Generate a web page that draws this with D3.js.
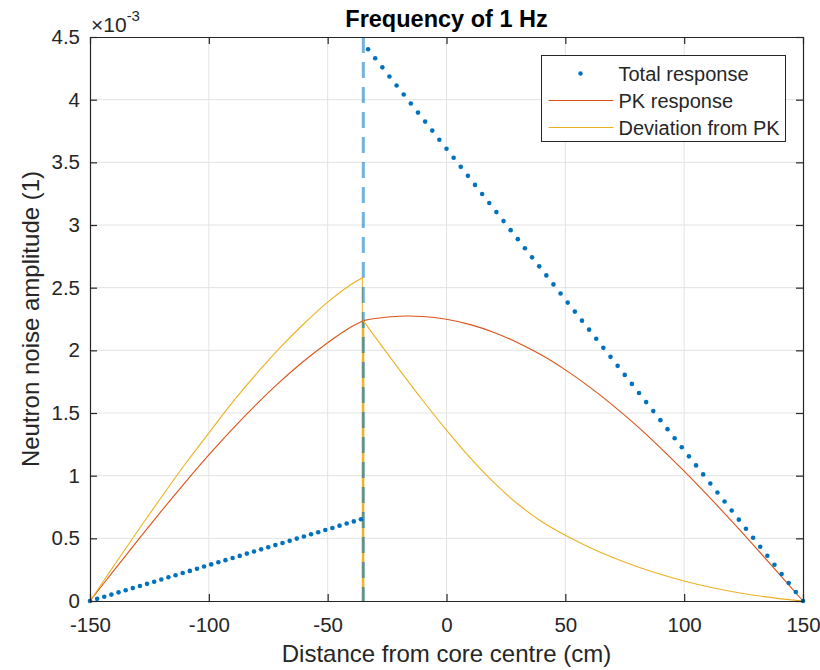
<!DOCTYPE html>
<html>
<head>
<meta charset="utf-8">
<script src="https://cdn.jsdelivr.net/npm/d3@7"></script>
<style>
  body { margin: 0; background: #fff; }
  text { font-family: "Liberation Sans", Arial, sans-serif; fill: #262626; }
</style>
</head>
<body>
<script>
// amplitudes are in units of 1e-3 (shown by the x10^-3 label)

// total response, sampled every 3 cm
var totalLeftX = [-150,-147,-144,-141,-138,-135,-132,-129,-126,-123,-120,-117,-114,-111,-108,-105,-102,-99,-96,-93,
    -90,-87,-84,-81,-78,-75,-72,-69,-66,-63,-60,-57,-54,-51,-48,-45,-42,-39,-36];
var totalLeftY = [0,0.017,0.034,0.051,0.069,0.086,0.103,0.120,0.137,0.154,0.172,0.189,0.206,0.223,0.240,0.257,0.275,0.292,0.309,0.326,
    0.343,0.360,0.378,0.395,0.412,0.429,0.446,0.463,0.480,0.498,0.515,0.532,0.549,0.566,0.583,0.601,0.618,0.635,0.652];
var totalRightX = [-33,-30,-27,-24,-21,-18,-15,-12,-9,-6,-3,0,3,6,9,12,15,18,21,24,27,30,33,36,39,42,45,48,51,54,57,60,
    63,66,69,72,75,78,81,84,87,90,93,96,99,102,105,108,111,114,117,120,123,126,129,132,135,138,141,144,147,150];
var totalRightY = [4.402,4.330,4.258,4.185,4.113,4.041,3.969,3.897,3.825,3.753,3.680,3.608,3.536,3.464,3.392,3.320,3.247,3.175,3.103,3.031,
    2.959,2.887,2.814,2.742,2.670,2.598,2.526,2.454,2.381,2.309,2.237,2.165,2.093,2.020,1.948,1.876,1.804,1.732,1.660,1.587,
    1.515,1.443,1.371,1.299,1.227,1.154,1.082,1.010,0.938,0.866,0.794,0.722,0.649,0.577,0.505,0.433,0.361,0.289,0.216,0.144,
    0.072,0];

// PK response (has a cusp at the perturbation, x = -35)
var pkX = [-150,-140,-130,-120,-110,-100,-90,-80,-70,-60,-50,-40,-35,-30,-20,-10,0,10,20,30,40,50,60,70,80,90,100,110,120,130,140,150];
var pkY = [0,0.242,0.482,0.717,0.945,1.165,1.374,1.569,1.750,1.915,2.061,2.188,2.237,2.254,2.272,2.270,2.248,2.205,2.143,2.061,1.962,1.844,
    1.710,1.561,1.399,1.222,1.036,0.840,0.637,0.428,0.215,0];

// deviation from PK, left and right of the perturbation
var devLeftX = [-150,-140,-130,-120,-110,-100,-90,-80,-70,-60,-50,-40,-35];
var devLeftY = [0,0.280,0.557,0.828,1.091,1.340,1.587,1.812,2.021,2.212,2.385,2.527,2.583];
var devRightX = [-35,-30,-20,-10,0,10,20,30,40,50,60,70,80,90,100,110,120,130,140,150];
var devRightY = [2.237,2.105,1.850,1.600,1.364,1.142,0.944,0.774,0.634,0.524,0.429,0.347,0.276,0.214,0.160,0.114,0.076,0.044,0.019,0];

var perturbX = -35;

var xTicks = [-150,-100,-50,0,50,100,150];
var yTicks = [0,0.5,1,1.5,2,2.5,3,3.5,4,4.5];
var legendLabels = ["Total response","PK response","Deviation from PK"];

drawChart();

function drawChart() {
    var blue = "#0072BD", red = "#D95319", yellow = "#EDB120", axisCol = "#262626";

    var width = 820, height = 670;
    var pLeft = 90, pRight = 803, pTop = 37, pBottom = 601;

    var svg = d3.select("body")
        .append("svg")
        .attr("width", width)
        .attr("height", height);

    var x = d3.scaleLinear().domain([-150, 150]).range([pLeft, pRight]);
    var y = d3.scaleLinear().domain([0, 4.5]).range([pBottom, pTop]);

    //grid
    var grid = svg.append("g").attr("stroke", "#e3e3e3").attr("stroke-width", 1);
    grid.selectAll(".gx").data(xTicks.slice(1, -1)).enter().append("line")
        .attr("x1", function (d) { return x(d); }).attr("x2", function (d) { return x(d); })
        .attr("y1", pTop).attr("y2", pBottom);
    grid.selectAll(".gy").data(yTicks.slice(1, -1)).enter().append("line")
        .attr("y1", function (d) { return y(d); }).attr("y2", function (d) { return y(d); })
        .attr("x1", pLeft).attr("x2", pRight);

    //vertical marker at the perturbation
    svg.append("line")
        .attr("x1", x(perturbX) - 1).attr("x2", x(perturbX) - 1)
        .attr("y1", y(0)).attr("y2", y(devLeftY[devLeftY.length - 1]))
        .attr("stroke", yellow).attr("stroke-width", 1);
    svg.append("line")
        .attr("x1", x(perturbX)).attr("x2", x(perturbX))
        .attr("y1", y(0)).attr("y2", y(devRightY[0]))
        .attr("stroke", yellow).attr("stroke-width", 2);
    svg.append("line")
        .attr("x1", x(perturbX)).attr("x2", x(perturbX))
        .attr("y1", pTop).attr("y2", pBottom)
        .attr("stroke", blue).attr("stroke-opacity", 0.55)
        .attr("stroke-width", 3)
        .attr("stroke-dasharray", "16,9");

    var line = d3.line()
        .x(function (d) { return x(d[0]); })
        .y(function (d) { return y(d[1]); })
        .curve(d3.curveCatmullRom.alpha(0.5));

    function pairs(xs, ys) {
        return xs.map(function (v, i) { return [v, ys[i]]; });
    }

    //PK response, drawn as two smooth pieces meeting at the cusp
    var pk = pairs(pkX, pkY);
    [pk.filter(function (d) { return d[0] <= perturbX; }),
     pk.filter(function (d) { return d[0] >= perturbX; })].forEach(function (seg) {
        svg.append("path")
            .datum(seg)
            .attr("fill", "none").attr("stroke", red).attr("stroke-width", 1.1)
            .attr("d", line);
    });

    //deviation
    [pairs(devLeftX, devLeftY), pairs(devRightX, devRightY)].forEach(function (seg) {
        svg.append("path")
            .datum(seg)
            .attr("fill", "none").attr("stroke", yellow).attr("stroke-width", 1.1)
            .attr("d", line);
    });

    //total response dots
    var dots = pairs(totalLeftX, totalLeftY).concat(pairs(totalRightX, totalRightY));
    svg.selectAll(".dot")
        .data(dots)
        .enter()
        .append("circle")
        .attr("class", "dot")
        .attr("cx", function (d) { return x(d[0]); })
        .attr("cy", function (d) { return y(d[1]); })
        .attr("r", 2.3)
        .attr("fill", blue);

    //axes (MATLAB style: hyphen minus, ticks inside, box on)
    var fmt = function (d) { return String(d); };
    var xAxis = svg.append("g")
        .attr("transform", "translate(0," + pBottom + ")")
        .call(d3.axisBottom(x).tickValues(xTicks).tickSizeInner(-7).tickSizeOuter(0).tickPadding(16).tickFormat(fmt));
    var yAxis = svg.append("g")
        .attr("transform", "translate(" + pLeft + ",0)")
        .call(d3.axisLeft(y).tickValues(yTicks).tickSizeInner(-7).tickSizeOuter(0).tickPadding(10).tickFormat(fmt));
    var xTopAxis = svg.append("g")
        .attr("transform", "translate(0," + pTop + ")")
        .call(d3.axisTop(x).tickValues(xTicks).tickSizeInner(-7).tickSizeOuter(0).tickFormat(""));
    var yRightAxis = svg.append("g")
        .attr("transform", "translate(" + pRight + ",0)")
        .call(d3.axisRight(y).tickValues(yTicks).tickSizeInner(-7).tickSizeOuter(0).tickFormat(""));

    [xAxis, yAxis, xTopAxis, yRightAxis].forEach(function (g) {
        g.select(".domain").attr("stroke", axisCol).attr("stroke-width", 1.2);
        g.selectAll(".tick line").attr("stroke", axisCol).attr("stroke-width", 1.2);
        g.selectAll(".tick text").attr("fill", axisCol).style("font-size", "20.5px")
            .style("font-family", "'Liberation Sans', Arial, sans-serif");
    });

    //exponent label
    var expo = svg.append("text")
        .attr("x", 91).attr("y", 32)
        .style("font-size", "21px");
    expo.append("tspan").text("\u00d710");
    expo.append("tspan").attr("dy", -11).style("font-size", "15px").text("-3");

    //title and labels
    svg.append("text")
        .attr("x", (pLeft + pRight) / 2).attr("y", 27)
        .attr("text-anchor", "middle")
        .style("font-size", "23.5px").style("font-weight", "bold")
        .style("fill", "#000")
        .text("Frequency of 1 Hz");

    svg.append("text")
        .attr("x", (pLeft + pRight) / 2).attr("y", 662)
        .attr("text-anchor", "middle")
        .style("font-size", "24px")
        .text("Distance from core centre (cm)");

    svg.append("text")
        .attr("transform", "translate(39," + (pTop + pBottom) / 2 + ") rotate(-90)")
        .attr("text-anchor", "middle")
        .style("font-size", "24px")
        .text("Neutron noise amplitude (1)");

    //legend
    var legendColors = [blue, red, yellow];
    var legend = svg.append("g").attr("transform", "translate(541.5,55.5)");
    legend.append("rect")
        .attr("width", 244).attr("height", 86)
        .attr("fill", "#fff").attr("stroke", axisCol).attr("stroke-width", 1);

    legendLabels.forEach(function (label, i) {
        var row = legend.append("g").attr("transform", "translate(0," + (18 + i * 27) + ")");
        row.append("text")
            .attr("x", 77).attr("dy", "0.36em")
            .style("font-size", "20px")
            .text(label);
        if (i === 0) {
            row.append("circle").attr("cx", 39).attr("cy", 0).attr("r", 2.2).attr("fill", legendColors[i]);
        } else {
            row.append("line")
                .attr("x1", 7).attr("x2", 72)
                .attr("stroke", legendColors[i])
                .attr("stroke-width", 1.1);
        }
    });
}
</script>
</body>
</html>
